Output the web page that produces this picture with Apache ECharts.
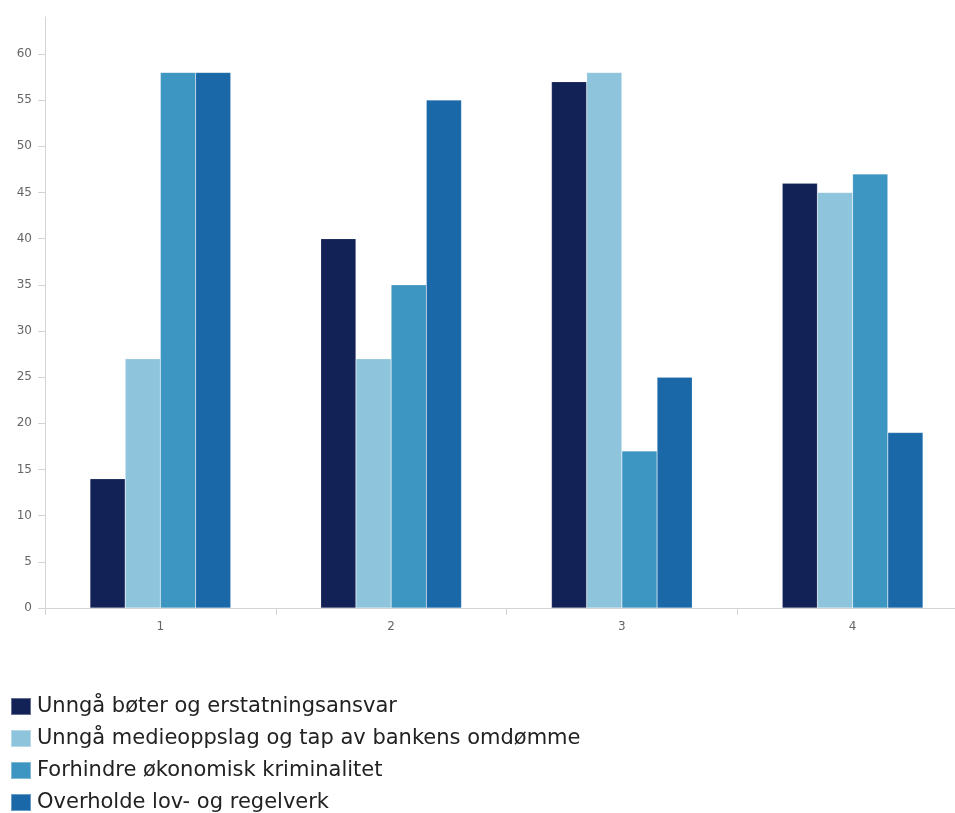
<!DOCTYPE html>
<html>
<head>
<meta charset="utf-8">
<script src="https://cdn.jsdelivr.net/npm/echarts@6/dist/echarts.min.js"></script>
<style>
  html, body { margin: 0; padding: 0; background: #fff; }
  #chart { width: 955px; height: 813px; }
</style>
</head>
<body>
<div id="chart"></div>
<script>
const categories = ['1', '2', '3', '4'];
const seriesNames = [
  'Unngå bøter og erstatningsansvar',
  'Unngå medieoppslag og tap av bankens omdømme',
  'Forhindre økonomisk kriminalitet',
  'Overholde lov- og regelverk'
];
const boterValues = [14, 40, 57, 46];
const medieValues = [27, 27, 58, 45];
const kriminalitetValues = [58, 35, 17, 47];
const regelverkValues = [58, 55, 25, 19];
const yTicks = [0, 5, 10, 15, 20, 25, 30, 35, 40, 45, 50, 55, 60];
const seriesColors = ['#122256', '#8fc5dc', '#3d95c1', '#1a68a8'];

const valueSets = [boterValues, medieValues, kriminalitetValues, regelverkValues];

const chart = echarts.init(document.getElementById('chart'));
chart.setOption({
  animation: false,
  textStyle: { fontFamily: '"DejaVu Sans", sans-serif' },
  grid: {
    left: 45, width: 923, top: 17, height: 591,
    containLabel: false, outerBoundsMode: 'none'
  },
  xAxis: {
    type: 'category',
    data: categories,
    axisLine: { lineStyle: { color: '#d4d4d4' } },
    axisTick: { show: true, length: 7, lineStyle: { color: '#d4d4d4' } },
    axisLabel: { color: '#666', fontSize: 12, margin: 13 }
  },
  yAxis: {
    type: 'value',
    min: 0,
    max: 64,
    axisLine: { show: true, lineStyle: { color: '#d4d4d4' } },
    axisTick: { show: true, length: 7, customValues: yTicks, lineStyle: { color: '#d4d4d4' } },
    splitLine: { show: false },
    axisLabel: { color: '#666', fontSize: 12, margin: 13, customValues: yTicks }
  },
  legend: {
    orient: 'vertical',
    left: 10,
    top: 696,
    height: 120,
    padding: 0,
    itemWidth: 20,
    itemHeight: 17,
    itemGap: 11,
    icon: 'rect',
    textStyle: { fontSize: 21, color: '#222', padding: [0, 0, 0, 1] },
    data: seriesNames
  },
  series: seriesNames.map((name, i) => ({
    name: name,
    type: 'bar',
    data: valueSets[i],
    barGap: '0%',
    barCategoryGap: '39%',
    itemStyle: { color: seriesColors[i], borderColor: 'rgba(255,255,255,0.35)', borderWidth: 0.5 }
  }))
});
</script>
</body>
</html>
